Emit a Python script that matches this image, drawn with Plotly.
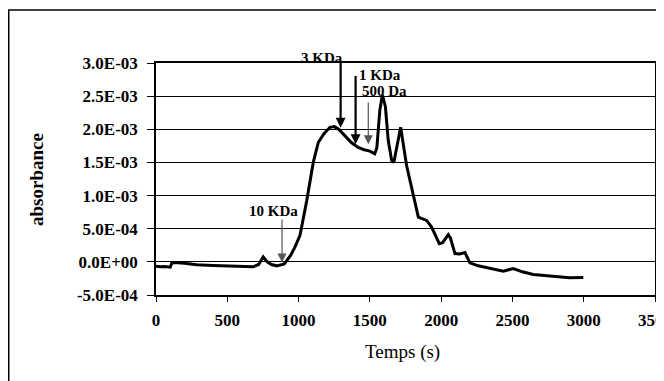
import plotly.graph_objects as go

# 시간(s)과 흡광도 값
temps = [0, 30, 60, 100, 110, 130, 200, 285, 400, 500, 600, 680, 720, 752, 780,
         810, 847, 900, 945, 975, 1010, 1057, 1103, 1138, 1177, 1220, 1251, 1281,
         1326, 1370, 1415, 1460, 1500, 1534, 1549, 1570, 1588, 1609, 1629, 1653,
         1668, 1689, 1716, 1758, 1805, 1840, 1898, 1933, 1987, 2010, 2050, 2065,
         2097, 2130, 2167, 2202, 2260, 2342, 2436, 2506, 2570, 2646, 2730, 2810,
         2900, 2997]
absorbance = [-6.5e-5, -7.5e-5, -7e-5, -8e-5, -2e-5, -1e-5, -2e-5, -4.5e-5,
              -5.5e-5, -6.5e-5, -7e-5, -7.5e-5, -4e-5, 7.5e-5, 0.0,
              -4e-5, -6e-5, -3e-5, 1.0e-4, 2.25e-4, 4.0e-4, 9.2e-4, 1.5e-3,
              1.8e-3, 1.93e-3, 2.03e-3, 2.04e-3, 2.0e-3,
              1.9e-3, 1.8e-3, 1.73e-3, 1.69e-3, 1.67e-3, 1.63e-3, 1.72e-3,
              2.29e-3, 2.52e-3, 2.34e-3, 1.83e-3, 1.53e-3,
              1.5e-3, 1.72e-3, 2.03e-3, 1.45e-3, 1.0e-3, 6.75e-4, 6.25e-4,
              5.25e-4, 2.75e-4, 2.9e-4, 4.1e-4, 3.6e-4,
              1.25e-4, 1.2e-4, 1.4e-4, -1.5e-5, -6e-5, -1.0e-4, -1.4e-4, -1.0e-4,
              -1.5e-4, -1.9e-4, -2.1e-4, -2.25e-4,
              -2.4e-4, -2.35e-4]

# 눈금
y_ticks = [-5e-4, 0, 5e-4, 1e-3, 1.5e-3, 2e-3, 2.5e-3, 3e-3]
y_labels = ["-5.0E-04", "0.0E+00", "5.0E-04", "1.0E-03", "1.5E-03",
            "2.0E-03", "2.5E-03", "3.0E-03"]
y_min, y_max = -5e-4, 3e-3

# 분자량 표시 화살표
marker_labels = ["10 KDa", "3 KDa", "1 KDa", "500 Da"]
marker_x = [884, 1295, 1400, 1489]
marker_head = [-1e-5, 2.025e-3, 1.775e-3, 1.775e-3]
marker_tail = [6.6e-4, 3.05e-3, 2.825e-3, 2.425e-3]
label_x = [824, 1164, 1571, 1602]
label_y = [7.65e-4, 3.075e-3, 2.815e-3, 2.575e-3]
marker_bold = [False, True, True, False]

serif = "Liberation Serif, Times New Roman, serif"

fig = go.Figure()
fig.add_trace(go.Scatter(
    x=temps, y=absorbance, mode="lines",
    line=dict(color="black", width=3),
    showlegend=False
))

for lab, x, h, t, lx, ly, bold in zip(marker_labels, marker_x, marker_head,
                                       marker_tail, label_x, label_y, marker_bold):
    fig.add_annotation(
        x=x, y=h, ax=x, ay=t, xref="x", yref="y", axref="x", ayref="y",
        text="", showarrow=True, arrowhead=2,
        arrowsize=0.9 if bold else 1.5,
        arrowwidth=2.2 if bold else 1.2,
        arrowcolor="black" if bold else "#555555"
    )
    # 라벨은 축 범위 밖에 있을 수 있으므로 paper 좌표로 변환
    fig.add_annotation(
        x=lx, y=(ly - y_min) / (y_max - y_min), xref="x", yref="paper",
        text="<b>" + lab + "</b>", showarrow=False,
        xanchor="center", yanchor="middle",
        font=dict(family=serif, size=15, color="black")
    )

# 축 제목
fig.add_annotation(x=-0.2405, y=0.5, xref="paper", yref="paper",
                   text="<b>absorbance</b>", textangle=-90, showarrow=False,
                   xanchor="center", yanchor="middle",
                   font=dict(family=serif, size=19, color="black"))
fig.add_annotation(x=0.493, y=-0.245, xref="paper", yref="paper",
                   text="Temps (s)", showarrow=False,
                   xanchor="center", yanchor="middle",
                   font=dict(family=serif, size=19, color="black"))

# 바깥 테두리
fig.add_shape(type="rect", xref="paper", yref="paper",
              x0=-0.2951, y0=-0.6, x1=1.2, y1=1.2284,
              line=dict(color="black", width=1.5))

fig.update_layout(
    width=664, height=381,
    margin=dict(l=148, r=17, t=54.5, b=94),
    plot_bgcolor="white", paper_bgcolor="white",
    font=dict(family=serif, color="black"),
    xaxis=dict(range=[0, 3500], dtick=500, tick0=0, showgrid=False,
               showline=True, linecolor="black", linewidth=1.5, mirror=True,
               ticks="outside", ticklen=5, tickcolor="black",
               tickfont=dict(family=serif, size=17, color="black"),
               tickprefix="<b>", ticksuffix="</b>", ticklabelstandoff=4,
               zeroline=False, automargin=False),
    yaxis=dict(range=[y_min, y_max], tickvals=y_ticks,
               ticktext=["<b>" + s + "</b>" for s in y_labels],
               showgrid=True, gridcolor="black", gridwidth=1,
               showline=True, linecolor="black", linewidth=1.5, mirror=True,
               ticks="outside", ticklen=7, tickcolor="black",
               tickfont=dict(family=serif, size=17, color="black"),
               ticklabelstandoff=6,
               zeroline=False, automargin=False),
)

fig.write_html("out.html")
